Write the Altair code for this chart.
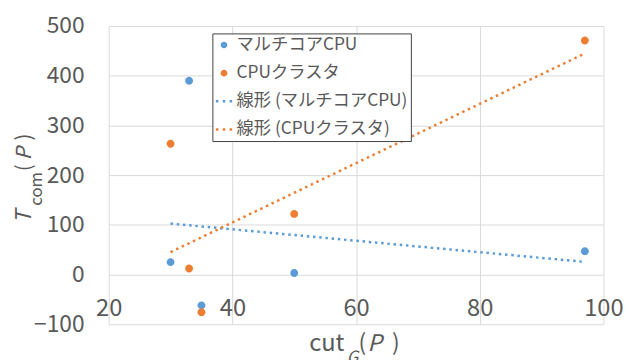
import altair as alt
import pandas as pd

# ---- data ----
series_names = ["マルチコアCPU", "CPUクラスタ"]
trend_names = ["線形 (マルチコアCPU)", "線形 (CPUクラスタ)"]
cut_values = [30, 33, 35, 50, 97]
multicore_t = [25, 390, -62, 3, 47]
cluster_t = [263, 12, -76, 122, 471]
x_ticks = [20, 40, 60, 80, 100]
y_ticks = [-100, 0, 100, 200, 300, 400, 500]
series_colors = ["#5B9BD5", "#ED7D31"]

df = pd.DataFrame({
    "x": cut_values + cut_values,
    "y": multicore_t + cluster_t,
    "series": [series_names[0]] * len(cut_values) + [series_names[1]] * len(cut_values),
})

FONT = "Noto Sans CJK JP"
GRAY = "#595959"
W, H = 501, 302

CIRCLE = "M0.45,0A0.45,0.45,0,1,1,-0.45,0A0.45,0.45,0,1,1,0.45,0Z"
DOTS = ("M-1.1,-0.17h0.34v0.34h-0.34Z"
        "M-0.17,-0.17h0.34v0.34h-0.34Z"
        "M0.76,-0.17h0.34v0.34h-0.34Z")

domain = series_names + trend_names
legend = alt.Legend(
    title=None, orient="none", legendX=105, legendY=7.5,
    padding=3, strokeColor="#404040", fillColor="white",
    labelFont=FONT, labelFontSize=17.5, labelColor=GRAY, labelOffset=4, labelLimit=400,
    symbolSize=225, symbolStrokeWidth=0, rowPadding=9.5,
)
color = alt.Color("series:N", scale=alt.Scale(domain=domain, range=series_colors + series_colors), legend=legend)
shape = alt.Shape("series:N", scale=alt.Scale(domain=domain, range=[CIRCLE, CIRCLE, DOTS, DOTS]), legend=legend)

xenc = alt.X("x:Q", scale=alt.Scale(domain=[20, 100], nice=False, zero=False),
             axis=alt.Axis(values=x_ticks, title=None, offset=-H / 6, grid=True, gridColor="#d9d9d9",
                           domain=False, ticks=False, tickSize=0, labelFont=FONT, labelFontSize=24,
                           labelColor=GRAY, labelPadding=23, labelFlush=False))
yenc = alt.Y("y:Q", scale=alt.Scale(domain=[-100, 500], nice=False, zero=False),
             axis=alt.Axis(values=y_ticks, title=None, grid=True, gridColor="#d9d9d9",
                           domain=False, ticks=False, tickSize=0, labelFont=FONT, labelFontSize=23,
                           labelColor=GRAY, labelPadding=25, labelFlush=False))

base = alt.Chart(df)
points = base.mark_point(filled=True, opacity=1, size=316).encode(x=xenc, y=yenc, color=color, shape=shape)
lines = (base.transform_regression("x", "y", groupby=["series"])
         .transform_calculate(series="'線形 (' + datum.series + ')'")
         .mark_line(strokeDash=[2.5, 3.8], strokeWidth=2.5)
         .encode(x=xenc, y=yenc, color=color))

one = pd.DataFrame({"k": [0]})


def piece(text, x, y, size, italic=False, angle=0):
    return alt.Chart(one).mark_text(
        text=text, font=FONT, fontSize=size, fontStyle="italic" if italic else "normal",
        angle=angle, align="left", baseline="alphabetic", color=GRAY,
    ).encode(x=alt.value(x), y=alt.value(y))


texts = [
    piece("cut", 203, 329, 24),
    piece("G", 241, 341, 17, italic=True),
    piece("(", 253, 329, 23),
    piece("P", 262, 329, 23, italic=True),
    piece(")", 287, 329, 23),
    piece("T", -79, 200, 22, italic=True, angle=270),
    piece("com", -68, 182, 17, angle=270),
    piece("(", -79, 147, 21, angle=270),
    piece("P", -79, 136, 21, italic=True, angle=270),
    piece(")", -79, 116, 21, angle=270),
]

chart = (alt.layer(points, lines, *texts)
         .properties(width=W, height=H, padding={"left": 102, "top": 16, "right": 33, "bottom": 34},
                     autosize=alt.AutoSizeParams(type="none"), background="white")
         .configure_view(strokeWidth=0))

chart.save("out.html", embed_options={"renderer": "svg", "actions": False})
